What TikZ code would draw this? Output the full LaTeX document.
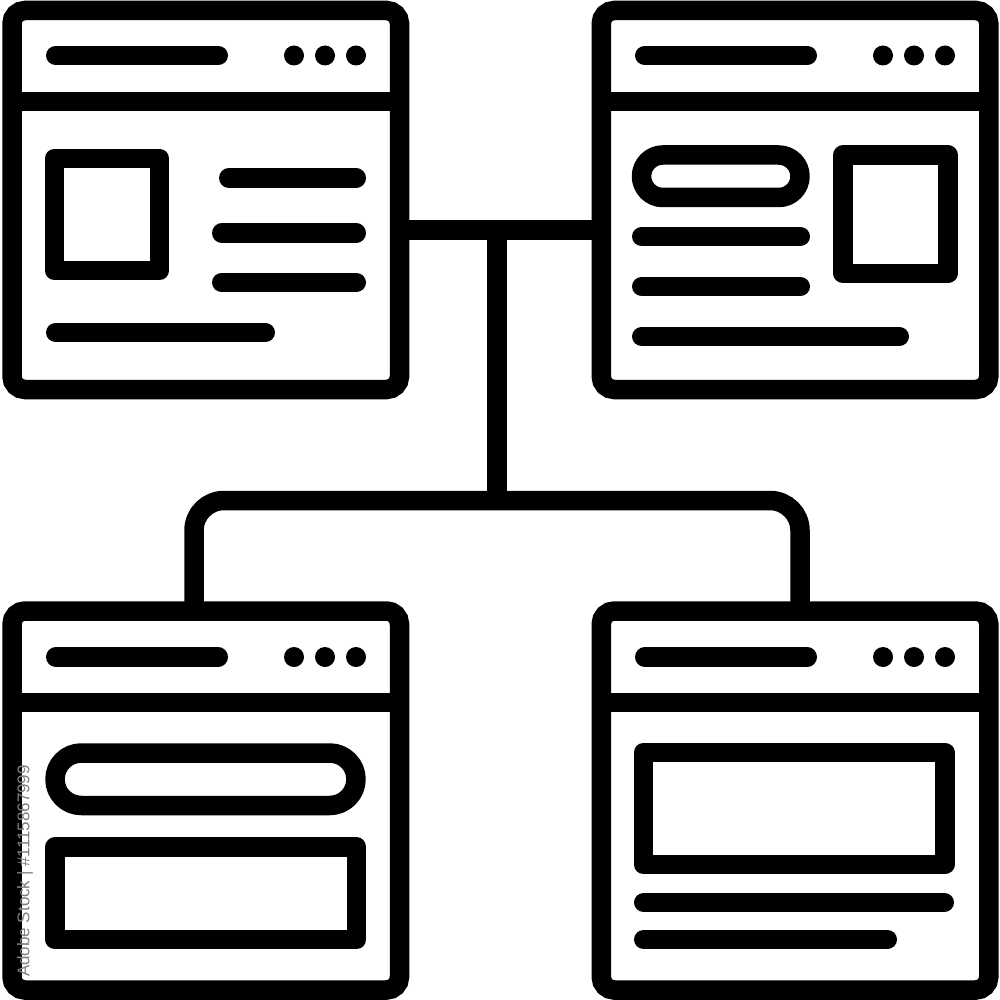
\documentclass[tikz,border=0pt]{standalone}
\usepackage{fontspec}
\newfontfamily\wmfont{Liberation Sans}
\begin{document}
\begin{tikzpicture}[x=1pt,y=-1pt,
  lw/.style={line width=19.5pt},
  win/.style={draw=black,lw,rounded corners=13pt,rectangle,inner sep=0pt,outer sep=0pt,
    minimum width=387.5pt,minimum height=379pt},
  bar/.style={draw=black,lw,line cap=round},
  sep/.style={draw=black,lw},
  box/.style={draw=black,lw,line join=round},
  dotc/.style={fill=black},
  link/.style={draw=black,lw}]
\useasboundingbox (0,0) rectangle (1000,1000);
\fill[white] (0,0) rectangle (1000,1000);

% windows
\node[win] (TL) at (205.75,200) {};
\node[win] (TR) at (795,200) {};
\node[win] (BL) at (205.75,800.5) {};
\node[win] (BR) at (795,800.5) {};

% connectors
\coordinate (hub) at (497,230);
\coordinate (split) at (497,500.5);
\coordinate (dropL) at (194,500.5);
\coordinate (dropR) at (800,500.5);
\draw[link] (TL.east |- hub) -- (TR.west |- hub);
\draw[link] (hub) -- (split);
\draw[link,rounded corners=30pt] (BL.north -| dropL) -- (dropL) -- (dropR) -- (BR.north -| dropR);

% top-left window
\draw[bar] (55.75,55.5) -- (218.25,55.5);
\foreach \x in {294,325,356} \fill[dotc] (\x,55.5) circle (10);
\draw[sep] (TL.west |- 0,101.5) -- (TL.east |- 0,101.5);
\draw[box] (54.5,158.5) rectangle (159.5,270.5);
\draw[bar] (228.75,178) -- (356.25,178);
\draw[bar] (221.75,233) -- (356.25,233);
\draw[bar] (221.75,282.5) -- (356.25,282.5);
\draw[bar] (55.75,332.5) -- (265.25,332.5);

% top-right window
\draw[bar] (644.75,55.5) -- (807.25,55.5);
\foreach \x in {883,914,945} \fill[dotc] (\x,55.5) circle (10);
\draw[sep] (TR.west |- 0,101.5) -- (TR.east |- 0,101.5);
\draw[box,rounded corners=21.25pt] (641.5,155) rectangle (800,197.5);
\draw[box] (843,155) rectangle (948,273.5);
\draw[bar] (641.75,236.5) -- (800.25,236.5);
\draw[bar] (641.75,286.5) -- (800.25,286.5);
\draw[bar] (641.75,336.5) -- (899.25,336.5);

% bottom-left window
\draw[bar] (55.75,657) -- (218.25,657);
\foreach \x in {294,325,356} \fill[dotc] (\x,657) circle (10);
\draw[sep] (BL.west |- 0,702.5) -- (BL.east |- 0,702.5);
\draw[box,rounded corners=26.25pt] (55,753) rectangle (356,805.5);
\draw[box] (55,847) rectangle (356.5,939.5);

% bottom-right window
\draw[bar] (644.75,657) -- (807.25,657);
\foreach \x in {883,914,945} \fill[dotc] (\x,657) circle (10);
\draw[sep] (BR.west |- 0,702.5) -- (BR.east |- 0,702.5);
\draw[box] (643.5,752.5) rectangle (945,864.5);
\draw[bar] (643.75,902.5) -- (944.25,902.5);
\draw[bar] (643.75,939.5) -- (887.25,939.5);

% watermark text
\node[rotate=90,text=black!50,inner sep=0pt,font=\wmfont\fontsize{17pt}{17pt}\selectfont] (wm) at (25,871) {Adobe Stock | \#1115867999};
\end{tikzpicture}
\end{document}
